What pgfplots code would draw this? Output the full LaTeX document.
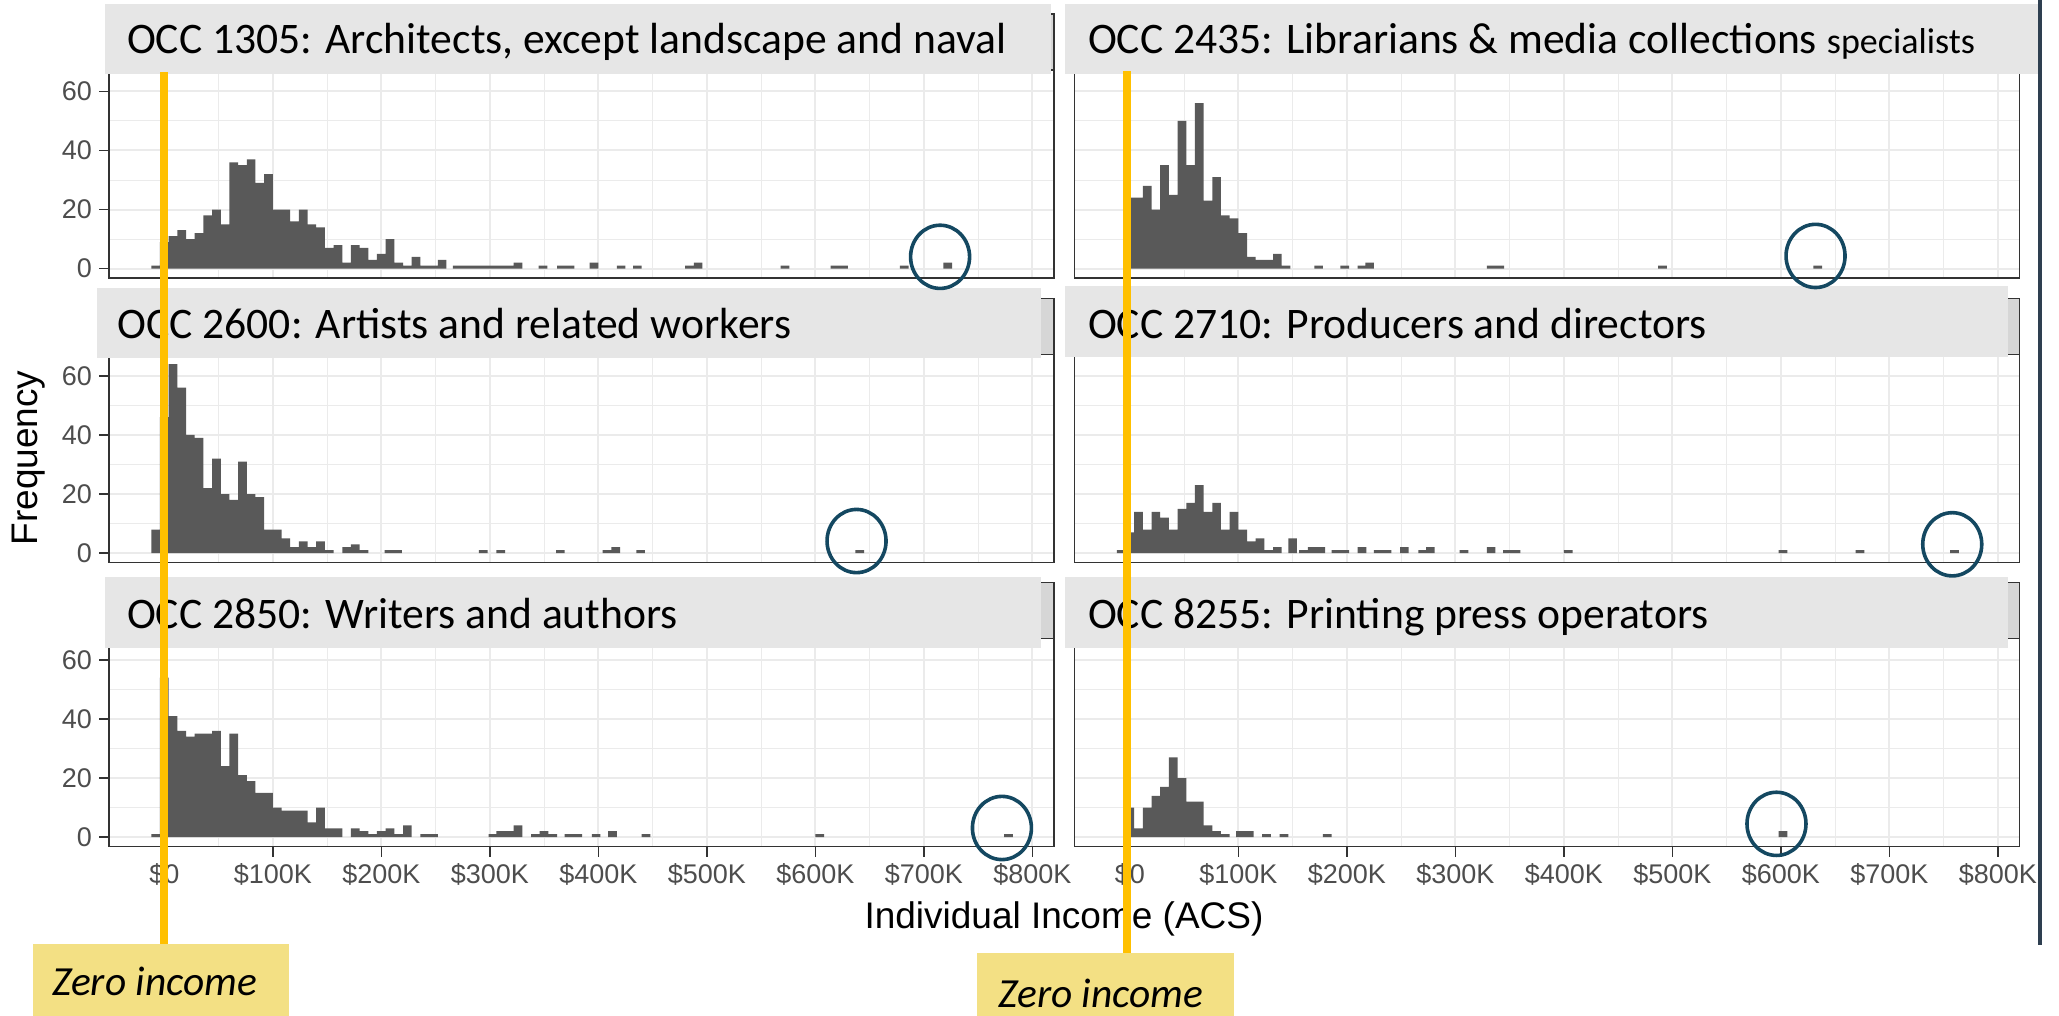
\documentclass[border=0pt]{standalone}
\usepackage{pgfplots}
\pgfplotsset{compat=1.18}
\usepackage{fontspec}
\setmainfont{Liberation Sans}
\newfontfamily\calib{Carlito}
\definecolor{g20}{HTML}{333333}
\definecolor{g30}{HTML}{4D4D4D}
\definecolor{g35}{HTML}{595959}
\definecolor{g92}{HTML}{EBEBEB}
\definecolor{stripov}{HTML}{E6E6E6}
\definecolor{striporig}{HTML}{D6D6D6}
\definecolor{gold}{HTML}{FFC000}
\definecolor{boxy}{HTML}{F3E084}
\definecolor{tealc}{HTML}{144861}
\definecolor{edgeline}{HTML}{2E3F50}

\pgfplotsset{
  panel/.style={
    scale only axis, width=472.5pt, height=104pt,
    xmin=-51, xmax=820, ymin=-3.2, ymax=67.2,
    xtick={0,100,...,800}, minor xtick={50,150,...,750},
    ytick={0,20,40,60}, minor ytick={10,30,50},
    grid=both,
    major grid style={draw=g92, line width=1pt},
    minor grid style={draw=g92, line width=0.5pt},
    axis line style={draw=g20, line width=0.8pt},
    tick align=outside, tick pos=left,
    major tick length=5pt, minor tick length=0pt,
    tick style={draw=g20, line width=0.8pt},
    ticklabel style={font=\fontsize{13.5}{14}\selectfont, text=g30},
    xticklabels={}, yticklabels={},
    ybar, bar width=8, bar shift=0pt,
    anchor=north west,
  },
  bottomrow/.style={xticklabels={\$0,\$100K,\$200K,\$300K,\$400K,\$500K,\$600K,\$700K,\$800K}},
  toprows/.style={xtick style={draw=none}},
  leftcol/.style={yticklabels={0,20,40,60}},
  rightcol/.style={ytick style={draw=none}},
  hist/.style={fill=g35, draw=none},
}

\begin{document}
\begin{tikzpicture}
\path[use as bounding box] (0pt,0pt) rectangle (1029.5pt,-508pt);

% ---------- OCC 1305 ----------
\begin{axis}[panel, toprows, leftcol, at={(54.5pt,-35.05pt)}]
\addplot[hist] coordinates {(-8,1) (0,9) (8,11) (16,13) (24,10) (32,12) (40,18) (48,20) (56,15) (64,36) (72,35) (80,37) (88,29) (96,32) (104,20) (112,20) (120,16) (128,20) (136,15) (144,14) (152,7) (160,8) (168,2) (176,8) (184,7) (192,3) (200,5) (208,10) (216,2) (224,1) (232,4) (240,1) (248,1) (256,3) (270,1) (278,1) (286,1) (294,1) (302,1) (310,1) (318,1) (326,2) (349,1) (366,1) (374,1) (396,2) (421,1) (436,1) (484,1) (492,2) (572,1) (618,1) (626,1) (682,1) (722,2)};
\coordinate (zl) at (axis cs:0,0);
\coordinate (c1) at (axis cs:715,4);
\end{axis}

% ---------- OCC 2435 ----------
\begin{axis}[panel, toprows, rightcol, at={(537.25pt,-35.05pt)}]
\addplot[hist] coordinates {(0,24) (8,24) (16,28) (24,20) (32,35) (40,25) (48,50) (56,35) (64,56) (72,23) (80,31) (88,18) (96,17) (104,12) (112,4) (120,3) (128,3) (136,5) (144,1) (174,1) (198,1) (214,1) (221,2) (333,1) (341,1) (491,1) (634,1)};
\coordinate (zr) at (axis cs:-3,0);
\coordinate (c2) at (axis cs:632,4.3);
\end{axis}

% ---------- OCC 2600 ----------
\begin{axis}[panel, toprows, leftcol, at={(54.5pt,-177.3pt)}]
\addplot[hist] coordinates {(-8,8) (0,46) (8,64) (16,56) (24,40) (32,39) (40,22) (48,32) (56,20) (64,18) (72,31) (80,20) (88,19) (96,8) (104,8) (112,5) (120,2) (128,4) (136,2) (144,4) (152,1) (168,2) (176,3) (184,1) (207,1) (215,1) (294,1) (310,1) (365,1) (408,1) (416,2) (439,1) (641,1)};
\coordinate (c3) at (axis cs:638,4.1);
\end{axis}

% ---------- OCC 2710 ----------
\begin{axis}[panel, toprows, rightcol, at={(537.25pt,-177.3pt)}]
\addplot[hist] coordinates {(-8,1) (0,7) (8,14) (16,8) (24,14) (32,12) (40,8) (48,15) (56,17) (64,23) (72,14) (80,17) (88,8) (96,14) (104,8) (112,4) (120,5) (128,1) (136,2) (150,5) (160,1) (168,2) (176,2) (190,1) (198,1) (214,2) (229,1) (237,1) (253,2) (270,1) (277,2) (308,1) (333,2) (348,1) (356,1) (404,1) (602,1) (673,1) (760,1)};
\coordinate (c4) at (axis cs:758,3);
\end{axis}

% ---------- OCC 2850 ----------
\begin{axis}[panel, bottomrow, leftcol, at={(54.5pt,-319.3pt)}]
\addplot[hist] coordinates {(-8,1) (0,54) (8,41) (16,36) (24,34) (32,35) (40,35) (48,36) (56,24) (64,35) (72,21) (80,19) (88,15) (96,15) (104,10) (112,9) (120,9) (128,9) (136,5) (144,10) (152,3) (160,3) (176,3) (184,2) (192,1) (200,2) (208,3) (216,1) (224,4) (240,1) (248,1) (303,1) (310,2) (318,2) (326,4) (342,1) (350,2) (358,1) (373,1) (381,1) (398,1) (413,2) (444,1) (604,1) (778,1)};
\coordinate (c5) at (axis cs:772,3.1);
\end{axis}

% ---------- OCC 8255 ----------
\begin{axis}[panel, bottomrow, rightcol, at={(537.25pt,-319.3pt)}]
\addplot[hist] coordinates {(0,10) (8,3) (16,10) (24,14) (32,17) (40,27) (48,20) (56,12) (64,12) (72,4) (80,2) (88,1) (102,2) (110,2) (126,1) (142,1) (182,1) (602,2)};
\coordinate (c6) at (axis cs:596,4.5);
\end{axis}

\begin{scope}[x=0.5pt,y=-0.5pt]
% axis titles
\node[rotate=90, font=\fontsize{18.5}{20}\selectfont] at (29,458) {Frequency};
\node[font=\fontsize{18.5}{20}\selectfont] at (1064,919) {Individual Income (ACS)};

% original strips (peeking out)
\foreach \xl/\xr/\yt in {109/1054/70.1, 1074.5/2019.5/70.1, 109/1054/354.6, 1074.5/2019.5/354.6, 109/1054/638.6, 1074.5/2019.5/638.6}{
  \filldraw[fill=striporig, draw=g20, line width=0.8pt] (\xl,\yt-56) rectangle (\xr,\yt);
}
% overlay strip boxes
\fill[stripov] (105,4) rectangle (1051,74);
\fill[stripov] (1065,4.5) rectangle (2040,73.7);
\fill[stripov] (97,288) rectangle (1041,358);
\fill[stripov] (1065,286) rectangle (2008,357);
\fill[stripov] (105,577) rectangle (1041,648);
\fill[stripov] (1065,577) rectangle (2008,648);

\begin{scope}[every node/.style={anchor=base west, inner sep=0pt, font=\calib\fontsize{21.8}{24}\selectfont}]
\node at (126.7,53.6) {OCC 1305: Architects, except landscape and naval};
\node at (1087.7,53.2) {OCC 2435: Librarians \& media collections {\fontsize{18}{19}\selectfont specialists}};
\node at (117,338.7) {OCC 2600: Artists and related workers};
\node at (1087.7,338.5) {OCC 2710: Producers and directors};
\node at (126.7,628.3) {OCC 2850: Writers and authors};
\node at (1087.7,628.5) {OCC 8255: Printing press operators};
\end{scope}

% zero-income lines
\draw[gold, line width=4pt] (zl |- 0,72) -- (zl |- 0,944);
\draw[gold, line width=4pt] (zr |- 0,71) -- (zr |- 0,953);

% zero-income boxes
\fill[boxy] (33,944) rectangle (289,1016);
\fill[boxy] (977,953) rectangle (1234,1016);
\node[anchor=base west, inner sep=0pt, font=\calib\itshape\fontsize{20.7}{22}\selectfont] at (51.7,995) {Zero income};
\node[anchor=base west, inner sep=0pt, font=\calib\itshape\fontsize{20.7}{22}\selectfont] at (998,1007) {Zero income};

% slide edge line
\draw[edgeline, line width=1.6pt] (2040,0) -- (2040,945);
\end{scope}

% outlier circles
\foreach \c in {c1,c2,c3,c4,c5,c6}{
  \draw[tealc, line width=1.8pt] (\c) ellipse [x radius=14.75pt, y radius=15.8pt];
}
\end{tikzpicture}
\end{document}
